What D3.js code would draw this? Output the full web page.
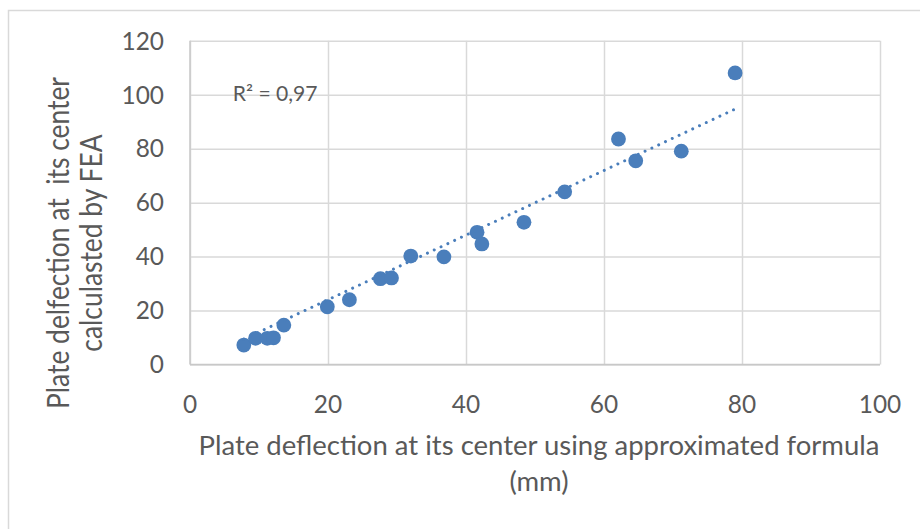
<!DOCTYPE html>
<html>
<head>
<meta charset="utf-8">
<script src="https://cdn.jsdelivr.net/npm/d3@7"></script>
<style>
  body { margin: 0; background: #fff; }
  svg text { font-family: Lato, "Open Sans", sans-serif; fill: #595959; white-space: pre; }
</style>
</head>
<body>
<svg id="chart" width="920" height="529"></svg>
<script>
// Deflection at the plate centre: approximate formula (x) vs. FEA result (y), in mm
const approxDeflection = [7.8, 9.5, 11.2, 12.1, 13.6, 19.9, 23.1, 27.6, 29.2, 32.0, 36.8, 41.6, 42.3, 48.4, 54.3, 62.1, 64.6, 71.2, 79.0];
const feaDeflection    = [7.2, 9.7, 9.7, 9.9, 14.6, 21.4, 24.0, 31.8, 32.1, 40.2, 39.9, 49.0, 44.7, 52.7, 64.0, 83.6, 75.5, 79.1, 108.1];

// Linear trendline end points (x range of the data)
const trendX = [7.8, 79.0];
const trendY = [9.4, 94.7];

const xTicks = [0, 20, 40, 60, 80, 100];
const yTicks = [0, 20, 40, 60, 80, 100, 120];

const xTitleLines = ["Plate deflection at its center using approximated formula", "(mm)"];
const yTitleLines = ["Plate delfection at  its center", "calculasted by FEA"];
const r2Label = "R\u00B2 = 0,97";

const svg = d3.select("#chart");
const plot = { left: 190, right: 880, top: 40.8, bottom: 364.5 };

const x = d3.scaleLinear().domain([0, 100]).range([plot.left, plot.right]);
const y = d3.scaleLinear().domain([0, 120]).range([plot.bottom, plot.top]);

const blue = "#4a7ebb";
const gridColor = "#d9d9d9";

// Fit a text element's font size so that it spans the given width
function fitWidth(sel, target, start) {
  sel.attr("font-size", start);
  const w = sel.node().getComputedTextLength();
  const size = start * target / w;
  sel.attr("font-size", size);
  return size;
}

// Chart area frame
svg.append("rect")
  .attr("x", 8.5).attr("y", 10.5)
  .attr("width", 1000).attr("height", 1000)
  .attr("fill", "none").attr("stroke", gridColor).attr("stroke-width", 1.5);

// Gridlines
const gy = svg.append("g")
  .attr("transform", `translate(${plot.left},0)`)
  .call(d3.axisLeft(y).tickValues(yTicks).tickSize(-(plot.right - plot.left)).tickFormat(""));
gy.select(".domain").remove();
gy.selectAll("line").attr("stroke", gridColor).attr("stroke-width", 1.5);

const gx = svg.append("g")
  .attr("transform", `translate(0,${plot.bottom})`)
  .call(d3.axisBottom(x).tickValues(xTicks).tickSize(-(plot.bottom - plot.top)).tickFormat(""));
gx.select(".domain").remove();
gx.selectAll("line").attr("stroke", gridColor).attr("stroke-width", 1.5);

// Axis lines
svg.append("line")
  .attr("x1", plot.left).attr("x2", plot.left)
  .attr("y1", plot.top).attr("y2", plot.bottom)
  .attr("stroke", "#c8c8c8").attr("stroke-width", 1.5);
svg.append("line")
  .attr("x1", plot.left).attr("x2", plot.right)
  .attr("y1", plot.bottom).attr("y2", plot.bottom)
  .attr("stroke", "#c8c8c8").attr("stroke-width", 1.5);

// Tick labels
const probe = svg.append("text").text("100");
const tickSize = fitWidth(probe, 42.5, 24);
probe.remove();

svg.append("g").selectAll("text")
  .data(yTicks).join("text")
  .attr("x", plot.left - 26)
  .attr("y", d => y(d))
  .attr("dy", "0.36em")
  .attr("text-anchor", "end")
  .attr("font-size", tickSize)
  .text(d => d);

svg.append("g").selectAll("text")
  .data(xTicks).join("text")
  .attr("x", d => x(d))
  .attr("y", 412.5)
  .attr("text-anchor", "middle")
  .attr("font-size", tickSize)
  .text(d => d);

// Data points
svg.append("g").selectAll("circle")
  .data(approxDeflection.map((v, i) => [v, feaDeflection[i]]))
  .join("circle")
  .attr("cx", d => x(d[0]))
  .attr("cy", d => y(d[1]))
  .attr("r", 7.4)
  .attr("fill", blue);

// Dotted linear trendline
svg.append("path")
  .datum(trendX.map((v, i) => [v, trendY[i]]))
  .attr("d", d3.line().x(d => x(d[0])).y(d => y(d[1])))
  .attr("fill", "none")
  .attr("stroke", blue)
  .attr("stroke-width", 3)
  .attr("stroke-linecap", "round")
  .attr("stroke-dasharray", "0.01 7.5");

// R² annotation
const r2 = svg.append("text")
  .attr("x", 232.7).attr("y", 101)
  .text(r2Label);
fitWidth(r2, 85, 22);

// X axis title
const xt1 = svg.append("text")
  .attr("x", 539).attr("y", 455)
  .attr("text-anchor", "middle")
  .text(xTitleLines[0]);
const titleSize = fitWidth(xt1, 681, 24);
svg.append("text")
  .attr("x", 539).attr("y", 491)
  .attr("text-anchor", "middle")
  .attr("font-size", titleSize)
  .text(xTitleLines[1]);

// Y axis title (rotated, two lines)
const yt = svg.append("g").attr("transform", "translate(0,243)");
const yt1 = yt.append("text")
  .attr("transform", "translate(69,0) scale(1.2,1) rotate(-90)")
  .attr("text-anchor", "middle")
  .text(yTitleLines[0]);
const ySize = fitWidth(yt1, 332, 24);
yt.append("text")
  .attr("transform", "translate(102,0) scale(1.2,1) rotate(-90)")
  .attr("text-anchor", "middle")
  .attr("font-size", ySize)
  .text(yTitleLines[1]);
</script>
</body>
</html>
